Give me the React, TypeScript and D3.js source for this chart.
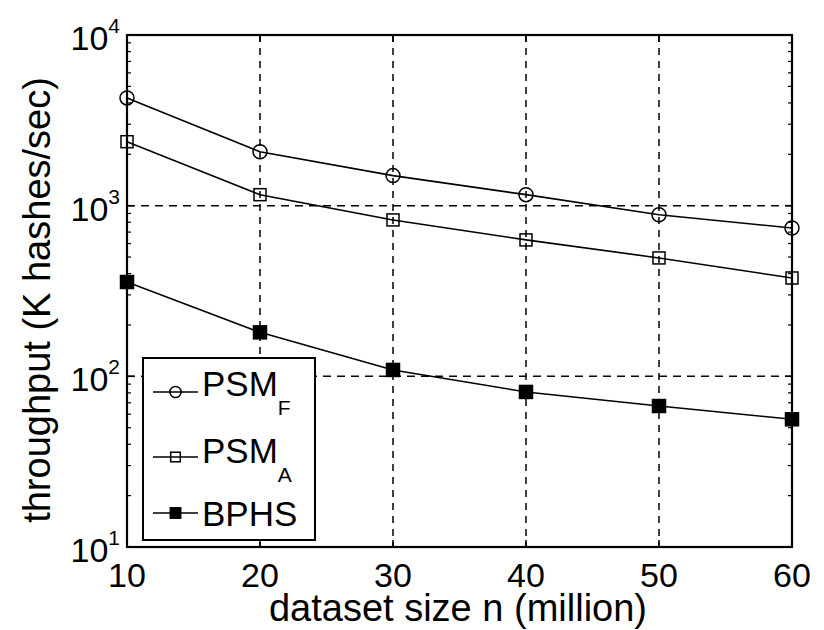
import React from "react";
import * as d3 from "d3";

const sizes = [10, 20, 30, 40, 50, 60];
const psmF = [4280, 2070, 1500, 1160, 885, 740];
const psmA = [2370, 1160, 825, 630, 494, 377];
const bphs = [357, 181, 109, 81, 67, 56];
const xTicks = [10, 20, 30, 40, 50, 60];
const yExps = [1, 2, 3, 4];

const W = 824, H = 630;
const M = { left: 127, right: 792, top: 35, bottom: 547 };
const FONT = "'Liberation Sans', Arial, Helvetica, sans-serif";

export default function App() {
  const x = d3.scaleLinear().domain([10, 60]).range([M.left, M.right]);
  const y = d3.scaleLog().domain([10, 10000]).range([M.bottom, M.top]);
  const line = d3.line<number>().x((_, i) => x(sizes[i])).y((d) => y(d));

  const minor: number[] = [];
  for (let e = 1; e < 4; e++) for (let k = 2; k <= 9; k++) minor.push(k * Math.pow(10, e));

  const series = [
    { name: "PSM", sub: "F", values: psmF, marker: "circle" },
    { name: "PSM", sub: "A", values: psmA, marker: "square" },
    { name: "BPHS", sub: "", values: bphs, marker: "filled" },
  ];

  const marker = (kind: string, cx: number, cy: number, key: any, scale = 1) => {
    if (kind === "circle")
      return <circle key={key} cx={cx} cy={cy} r={7 * scale} fill="none" stroke="#000" strokeWidth={1.5} />;
    const s = (kind === "square" ? 12 : 13) * scale;
    return (
      <rect key={key} x={cx - s / 2} y={cy - s / 2} width={s} height={s}
        fill={kind === "filled" ? "#000" : "none"} stroke="#000" strokeWidth={1.5} />
    );
  };

  const legY = [392, 457, 513];
  const legTextY = [396, 463, 526];

  return (
    <svg width={W} height={H} style={{ position: "absolute", left: 0, top: 0, background: "#fff" }} fontFamily={FONT}>
      <rect x={0} y={0} width={W} height={H} fill="#fff" />
      {/* grid */}
      {xTicks.slice(1, -1).map((t) => (
        <line key={"gx" + t} x1={x(t)} x2={x(t)} y1={M.top} y2={M.bottom} stroke="#000" strokeWidth={1.5} strokeDasharray="7,6" />
      ))}
      {yExps.slice(1, -1).map((e) => (
        <line key={"gy" + e} x1={M.left} x2={M.right} y1={y(Math.pow(10, e))} y2={y(Math.pow(10, e))} stroke="#000" strokeWidth={1.5} strokeDasharray="8,6" />
      ))}
      {/* ticks */}
      {xTicks.map((t) => (
        <g key={"tx" + t}>
          <line x1={x(t)} x2={x(t)} y1={M.bottom} y2={M.bottom - 7} stroke="#000" strokeWidth={1.5} />
          <line x1={x(t)} x2={x(t)} y1={M.top} y2={M.top + 7} stroke="#000" strokeWidth={1.5} />
        </g>
      ))}
      {yExps.map((e) => (
        <g key={"ty" + e}>
          <line x1={M.left} x2={M.left + 7} y1={y(Math.pow(10, e))} y2={y(Math.pow(10, e))} stroke="#000" strokeWidth={1.5} />
          <line x1={M.right} x2={M.right - 7} y1={y(Math.pow(10, e))} y2={y(Math.pow(10, e))} stroke="#000" strokeWidth={1.5} />
        </g>
      ))}
      {minor.map((v) => (
        <g key={"m" + v}>
          <line x1={M.left} x2={M.left + 4} y1={y(v)} y2={y(v)} stroke="#000" strokeWidth={1.2} />
          <line x1={M.right} x2={M.right - 4} y1={y(v)} y2={y(v)} stroke="#000" strokeWidth={1.2} />
        </g>
      ))}
      {/* box */}
      <rect x={M.left} y={M.top} width={M.right - M.left} height={M.bottom - M.top} fill="none" stroke="#000" strokeWidth={2.2} />
      {/* series */}
      {series.map((s, si) => (
        <g key={"s" + si}>
          <path d={line(s.values) || ""} fill="none" stroke="#000" strokeWidth={1.6} />
          {s.values.map((v, i) => marker(s.marker, x(sizes[i]), y(v), i))}
        </g>
      ))}
      {/* tick labels */}
      {xTicks.map((t) => (
        <text key={"lx" + t} x={x(t)} y={587} fontSize={34} textAnchor="middle" fill="#000">{t}</text>
      ))}
      {yExps.map((e) => (
        <text key={"ly" + e} x={120} y={y(Math.pow(10, e)) + 15} fontSize={34} textAnchor="end" fill="#000">
          10<tspan fontSize={21} dy={-17}>{e}</tspan>
        </text>
      ))}
      {/* axis labels */}
      <text x={458} y={621} fontSize={38} textAnchor="middle" fill="#000">dataset size n (million)</text>
      <text transform={`translate(50,300) rotate(-90)`} fontSize={38} textAnchor="middle" fill="#000">throughput (K hashes/sec)</text>
      {/* legend */}
      <rect x={143} y={358} width={172} height={182} fill="#fff" stroke="#000" strokeWidth={2} />
      {series.map((s, si) => (
        <g key={"lg" + si}>
          <line x1={153} x2={198} y1={legY[si]} y2={legY[si]} stroke="#000" strokeWidth={1.6} />
          {marker(s.marker, 175.5, legY[si], "lm" + si, 0.8)}
          <text x={202} y={legTextY[si]} fontSize={35} fill="#000">
            {s.name}
            {s.sub ? <tspan fontSize={21} dy={19}>{s.sub}</tspan> : null}
          </text>
        </g>
      ))}
    </svg>
  );
}
